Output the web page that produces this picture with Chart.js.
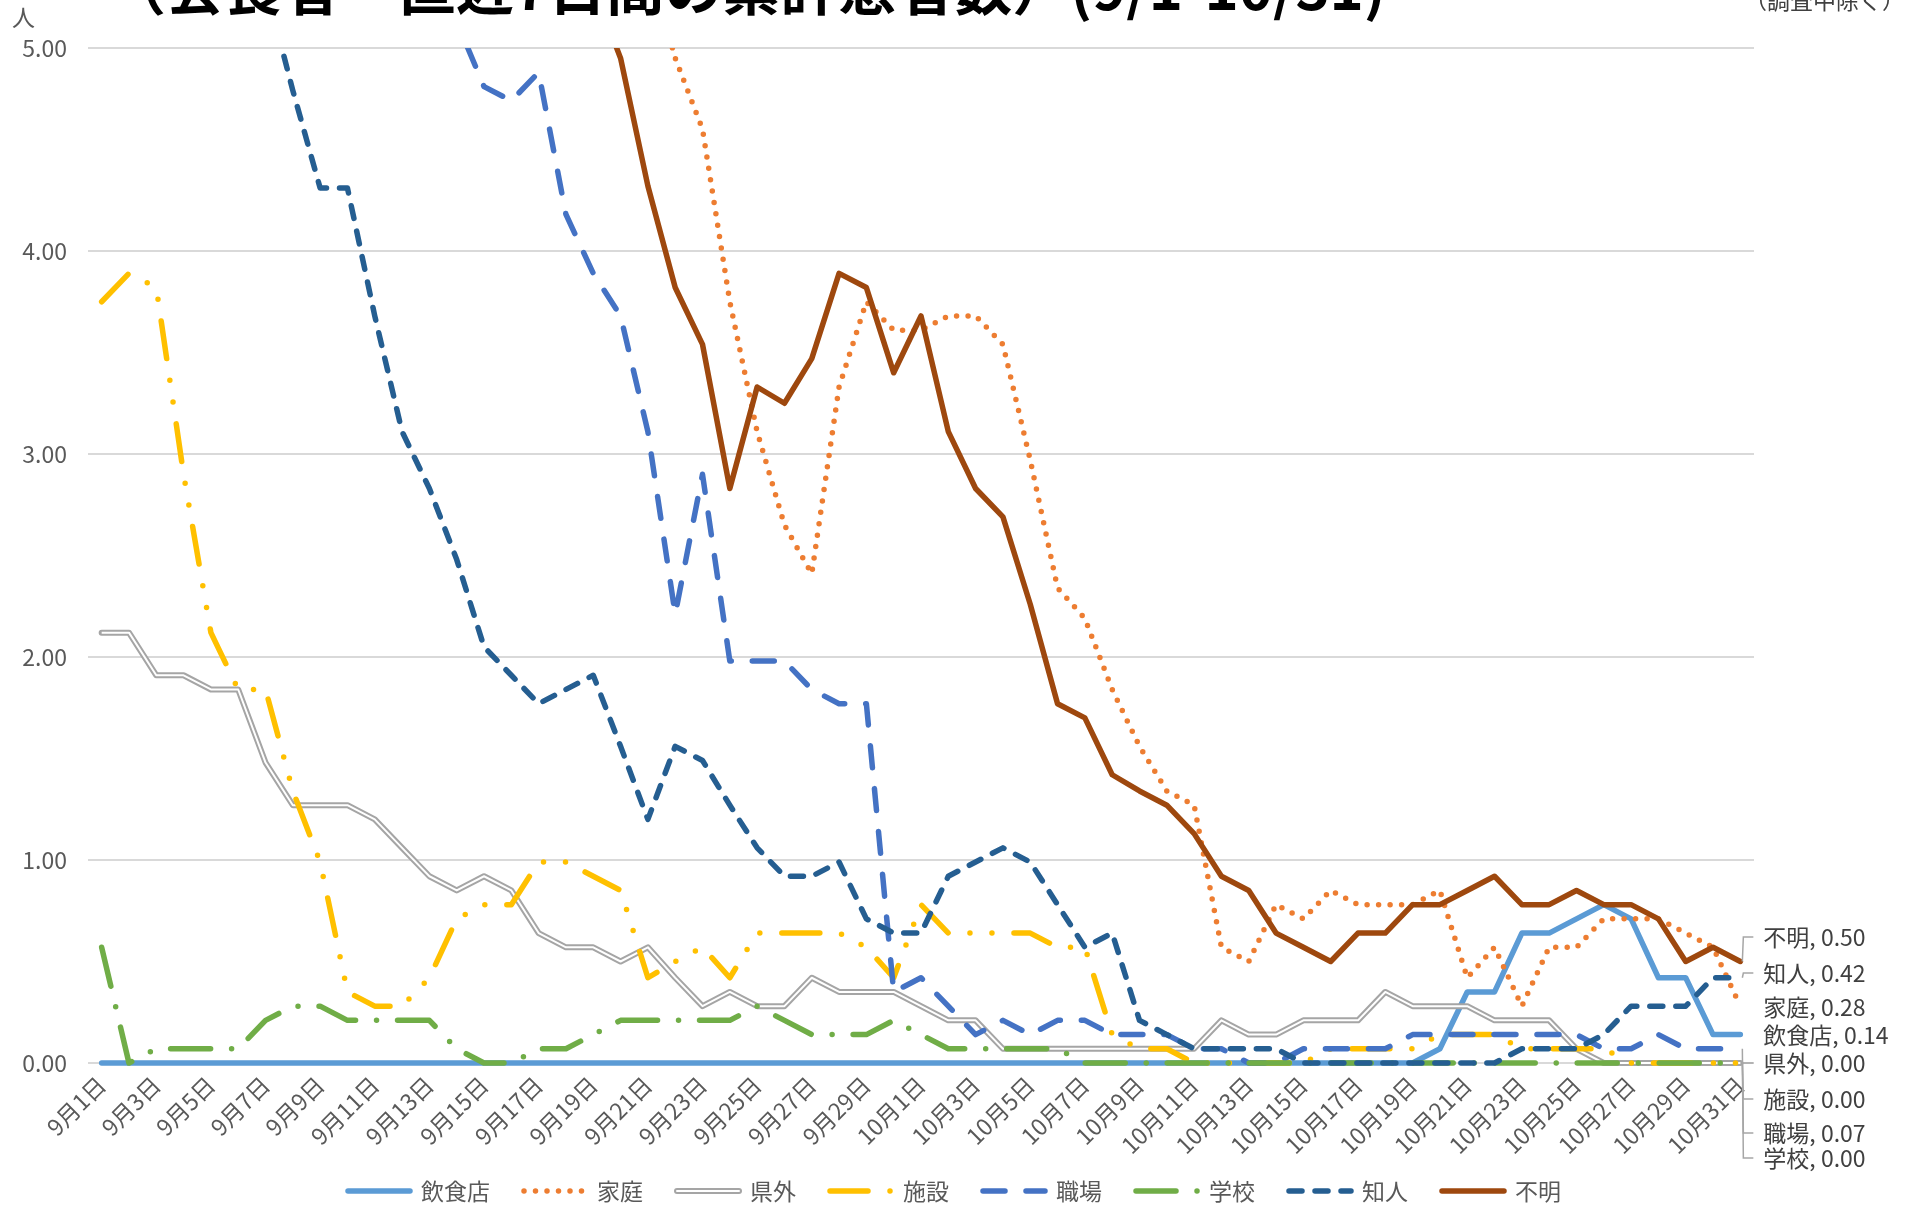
<!DOCTYPE html>
<html lang="ja">
<head>
<meta charset="utf-8">
<title>直近7日間の累計患者数</title>
<script src="https://cdn.jsdelivr.net/npm/chart.js@4.4.1/dist/chart.umd.min.js"></script>
<style>
  html, body { margin: 0; padding: 0; background: #fff; }
  #wrap { width: 1910px; height: 1206px; position: relative; overflow: hidden; }
</style>
</head>
<body>
<div id="wrap"><canvas id="chart" width="1910" height="1206"></canvas></div>
<script>
const FONT = '"Noto Sans CJK JP", "Noto Sans", sans-serif';

// x categories
const dates = [
  "9月1日","9月2日","9月3日","9月4日","9月5日","9月6日","9月7日","9月8日","9月9日","9月10日",
  "9月11日","9月12日","9月13日","9月14日","9月15日","9月16日","9月17日","9月18日","9月19日","9月20日",
  "9月21日","9月22日","9月23日","9月24日","9月25日","9月26日","9月27日","9月28日","9月29日","9月30日",
  "10月1日","10月2日","10月3日","10月4日","10月5日","10月6日","10月7日","10月8日","10月9日","10月10日",
  "10月11日","10月12日","10月13日","10月14日","10月15日","10月16日","10月17日","10月18日","10月19日","10月20日",
  "10月21日","10月22日","10月23日","10月24日","10月25日","10月26日","10月27日","10月28日","10月29日","10月30日",
  "10月31日"
];

// series values (values above 5.00 are off the chart in the original, estimated)
const restaurant = [0,0,0,0,0,0,0,0,0,0, 0,0,0,0,0,0,0,0,0,0, 0,0,0,0,0,0,0,0,0,0,
  0,0,0,0,0,0,0,0,0,0, 0,0,0,0,0,0,0,0,0,0.07, 0.35,0.35,0.64,0.64,0.71,0.78,0.71,0.42,0.42,0.14, 0.14];
const home = [7.6,7.9,8.1,8.0,7.8,7.5,7.3,7.0,6.8,6.7, 6.5,6.4,6.3,6.2,6.1,6.0,5.9,5.8,5.7,5.6,
  5.45,4.95,4.60,3.75,3.11,2.65,2.41,3.33,3.75,3.61, 3.61,3.68,3.68,3.54,2.97,2.34,2.19,1.84,1.56,1.34,
  1.27,0.57,0.50,0.78,0.71,0.85,0.78,0.78,0.78,0.85, 0.42,0.57,0.28,0.57,0.57,0.71,0.71,0.71,0.64,0.57, 0.28];
const outOfPref = [2.12,2.12,1.91,1.91,1.84,1.84,1.48,1.27,1.27,1.27, 1.20,1.06,0.92,0.85,0.92,0.85,0.64,0.57,0.57,0.50,
  0.57,0.42,0.28,0.35,0.28,0.28,0.42,0.35,0.35,0.35, 0.28,0.21,0.21,0.07,0.07,0.07,0.07,0.07,0.07,0.07,
  0.07,0.21,0.14,0.14,0.21,0.21,0.21,0.35,0.28,0.28, 0.28,0.21,0.21,0.21,0.07,0,0,0,0,0, 0];
const facility = [3.75,3.89,3.82,2.90,2.12,1.84,1.84,1.34,0.99,0.35, 0.28,0.28,0.42,0.71,0.78,0.78,0.99,0.99,0.92,0.85,
  0.42,0.50,0.57,0.42,0.64,0.64,0.64,0.64,0.57,0.42, 0.78,0.64,0.64,0.64,0.64,0.57,0.57,0.14,0.07,0.07,
  0,0,0,0,0,0.07,0.07,0.07,0.07,0.14, 0.14,0.14,0.07,0.07,0.07,0.07,0,0,0,0, 0];
const workplace = [7.5,7.7,7.8,7.6,7.4,7.1,6.9,6.6,6.3,6.0, 5.8,5.6,5.35,5.13,4.81,4.74,4.88,4.18,3.89,3.68,
  3.11,2.21,2.90,1.98,1.98,1.98,1.84,1.77,1.77,0.35, 0.42,0.28,0.14,0.21,0.14,0.21,0.21,0.14,0.14,0.14,
  0.07,0.07,0,0,0.07,0.07,0.07,0.07,0.14,0.14, 0.14,0.14,0.14,0.14,0.14,0.07,0.07,0.14,0.07,0.07, 0.07];
const school = [0.57,0,0.07,0.07,0.07,0.07,0.21,0.28,0.28,0.21, 0.21,0.21,0.21,0.07,0,0,0.07,0.07,0.14,0.21,
  0.21,0.21,0.21,0.21,0.28,0.21,0.14,0.14,0.14,0.21, 0.14,0.07,0.07,0.07,0.07,0.07,0,0,0,0,
  0,0,0,0,0,0,0,0,0,0, 0,0,0,0,0,0,0,0,0,0, 0];
const acquaintance = [6.6,6.5,6.4,6.2,6.0,5.7,5.31,4.79,4.31,4.31, 3.68,3.11,2.83,2.48,2.05,1.91,1.77,1.84,1.91,1.56,
  1.20,1.56,1.49,1.27,1.06,0.92,0.92,0.99,0.71,0.64, 0.64,0.92,0.99,1.06,0.99,0.78,0.57,0.64,0.21,0.14,
  0.07,0.07,0.07,0.07,0,0,0,0,0,0, 0,0,0.07,0.07,0.07,0.14,0.28,0.28,0.28,0.42, 0.42];
const unknown = [9.2,9.4,9.5,9.3,9.0,8.7,8.4,8.1,7.8,7.5, 7.2,6.9,6.6,6.3,6.1,5.9,5.7,5.5,5.3,4.95,
  4.32,3.82,3.54,2.83,3.33,3.25,3.47,3.89,3.82,3.40, 3.68,3.11,2.83,2.69,2.26,1.77,1.70,1.42,1.34,1.27,
  1.13,0.92,0.85,0.64,0.57,0.50,0.64,0.64,0.78,0.78, 0.85,0.92,0.78,0.78,0.85,0.78,0.78,0.71,0.50,0.57, 0.50];

const yTicks = [0, 1, 2, 3, 4, 5];

const seriesNames = ["飲食店", "家庭", "県外", "施設", "職場", "学校", "知人", "不明"];
const seriesData = [restaurant, home, outOfPref, facility, workplace, school, acquaintance, unknown];

// styles
const seriesColors = ["#5B9BD5", "#ED7D31", "#A5A5A5", "#FFC000", "#4472C4", "#70AD47", "#255E91", "#9E480E"];
const seriesDashes = [[], [0, 11.5], [], [38, 22, 0, 22, 0, 22], [22, 21], [40, 21, 0, 21], [13, 13], []];
const seriesWidths = [5.5, 5.5, 6, 5.5, 5.5, 5.5, 5.5, 5.5];
// end label rows, top to bottom, and whether a leader line is drawn
const endLabelY = [1035, 1007, 1063, 1099, 1133, 1158, 973, 937];
const endLeader = [false, false, true, true, true, true, true, true];

// clip at the 5.00 line only; let lines on 0.00 show full width
const lineClip = { top: 0, bottom: 8, left: 8, right: 8 };

const datasets = seriesNames.map((name, i) => ({
  label: name,
  data: seriesData[i],
  borderColor: seriesColors[i],
  backgroundColor: seriesColors[i],
  borderWidth: seriesWidths[i],
  borderDash: seriesDashes[i],
  borderCapStyle: "round",
  borderJoinStyle: "round",
  pointRadius: 0,
  pointHoverRadius: 0,
  tension: 0,
  clip: lineClip,
  order: 10 - i          // later series drawn on top, like the original
}));

// 県外 is a double line: white core over the grey stroke
datasets.push({
  label: "県外_core",
  data: outOfPref,
  borderColor: "#ffffff",
  borderWidth: 2,
  borderJoinStyle: "round",
  pointRadius: 0,
  tension: 0,
  clip: lineClip,
  order: 7.5
});

const headerPlugin = {
  id: "header",
  afterDraw(chart) {
    const ctx = chart.ctx;
    ctx.save();
    ctx.fillStyle = "#000";
    ctx.font = `bold 58px ${FONT}`;
    ctx.textAlign = "left";
    ctx.textBaseline = "middle";
    ctx.fillText("（会食者　直近7日間の累計患者数）(9/1-10/31)", 108, -12);

    ctx.font = `23px ${FONT}`;
    ctx.fillStyle = "#404040";
    ctx.textAlign = "right";
    ctx.fillText("（調査中除く）", 1905, 0);

    ctx.fillStyle = "#595959";
    ctx.textAlign = "left";
    ctx.fillText("人", 12, 17);
    ctx.restore();
  }
};

const endLabelPlugin = {
  id: "endLabels",
  afterDatasetsDraw(chart) {
    const ctx = chart.ctx;
    ctx.save();
    ctx.font = `23px ${FONT}`;
    ctx.textBaseline = "middle";
    ctx.textAlign = "left";
    seriesNames.forEach((name, i) => {
      const meta = chart.getDatasetMeta(i);
      const pt = meta.data[meta.data.length - 1];
      const ly = endLabelY[i];
      if (endLeader[i]) {
        ctx.strokeStyle = "#A6A6A6";
        ctx.lineWidth = 1.5;
        ctx.setLineDash([]);
        ctx.beginPath();
        ctx.moveTo(pt.x + 2, pt.y);
        ctx.lineTo(pt.x + 3, ly);
        ctx.lineTo(pt.x + 13, ly);
        ctx.stroke();
      }
      const v = seriesData[i][seriesData[i].length - 1];
      ctx.fillStyle = "#404040";
      ctx.fillText(`${name}, ${v.toFixed(2)}`, pt.x + 23, ly);
    });
    ctx.restore();
  }
};

const legendPlugin = {
  id: "lineLegend",
  afterDraw(chart) {
    const ctx = chart.ctx;
    const y = 1191;
    const sample = 68;
    let x = 345;
    ctx.save();
    ctx.font = `23px ${FONT}`;
    ctx.textBaseline = "middle";
    ctx.textAlign = "left";
    seriesNames.forEach((name, i) => {
      ctx.strokeStyle = seriesColors[i];
      ctx.lineWidth = seriesWidths[i];
      ctx.lineCap = "round";
      ctx.setLineDash(seriesDashes[i]);
      ctx.beginPath();
      ctx.moveTo(x + 3, y);
      ctx.lineTo(x + sample - 3, y);
      ctx.stroke();
      if (i === 2) {
        ctx.strokeStyle = "#fff";
        ctx.lineWidth = 2;
        ctx.beginPath();
        ctx.moveTo(x + 3, y);
        ctx.lineTo(x + sample - 3, y);
        ctx.stroke();
      }
      ctx.setLineDash([]);
      ctx.fillStyle = "#595959";
      ctx.fillText(name, x + sample + 8, y);
      x += sample + 8 + ctx.measureText(name).width + 31;
    });
    ctx.restore();
  }
};

const ctx = document.getElementById("chart").getContext("2d");
new Chart(ctx, {
  type: "line",
  data: { labels: dates, datasets: datasets },
  options: {
    responsive: false,
    animation: false,
    layout: { padding: { left: 0, right: 156, top: 48, bottom: 0 } },
    plugins: {
      legend: { display: false },
      tooltip: { enabled: false },
      title: { display: false }
    },
    scales: {
      x: {
        offset: true,
        grid: { display: false, drawTicks: false },
        border: { display: false },
        ticks: {
          autoSkip: false,
          minRotation: 45,
          maxRotation: 45,
          padding: 8,
          color: "#595959",
          font: { family: FONT, size: 23 },
          callback: function (value, index) {
            return index % 2 === 0 ? this.getLabelForValue(value) : "";
          }
        },
        afterFit: (scale) => { scale.height = 143; }
      },
      y: {
        min: yTicks[0],
        max: yTicks[yTicks.length - 1],
        grid: { color: "#D9D9D9", lineWidth: 2, drawTicks: false },
        border: { display: false },
        ticks: {
          stepSize: 1,
          padding: 21,
          color: "#595959",
          font: { family: FONT, size: 23 },
          callback: (v) => Number(v).toFixed(2)
        },
        afterFit: (scale) => { scale.width = 88; }
      }
    }
  },
  plugins: [headerPlugin, endLabelPlugin, legendPlugin]
});
</script>
</body>
</html>
